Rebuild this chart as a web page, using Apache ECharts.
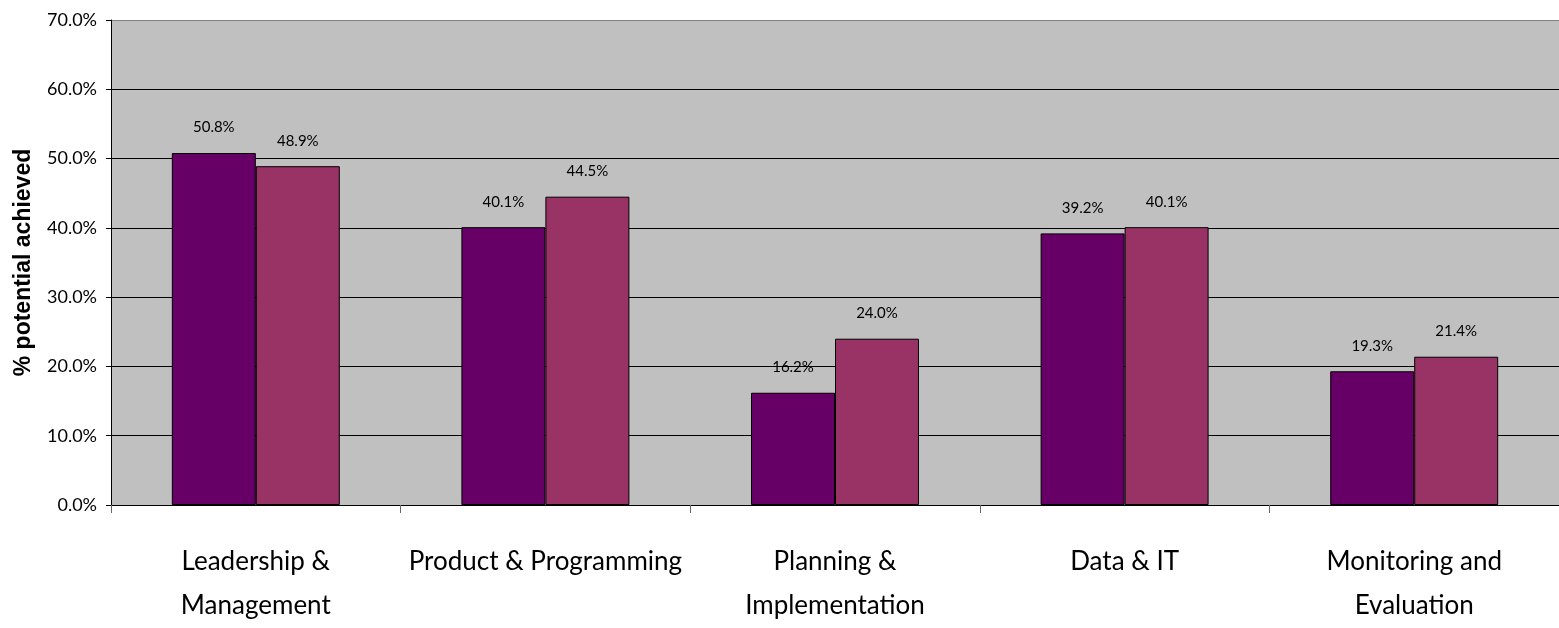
<!DOCTYPE html>
<html><head><meta charset="utf-8">
<script src="https://cdn.jsdelivr.net/npm/echarts@6/dist/echarts.min.js"></script>
<style>html,body{margin:0;padding:0;background:#fff;overflow:hidden}#c{width:1559px;height:628px}</style>
</head><body><div id="c"></div>
<script>
const categories = ['Leadership &\nManagement', 'Product & Programming', 'Planning &\nImplementation', 'Data & IT', 'Monitoring and\nEvaluation'];
const series1 = [50.8, 40.1, 16.2, 39.2, 19.3];
const series2 = [48.9, 44.5, 24.0, 40.1, 21.4];
const yTicks = { min: 0, max: 70, interval: 10 };
const FONT = 'Lato';

const chart = echarts.init(document.getElementById('c'));
const labelCfg = {
  show: true, position: 'top', distance: 18,
  fontFamily: FONT, fontSize: 15, color: '#000',
  formatter: p => p.value.toFixed(1) + '%'
};
chart.setOption({
  animation: false,
  grid: { left: 111, top: 20, width: 1455, height: 492, show: true, backgroundColor: '#c0c0c0', borderWidth: 0 },
  xAxis: {
    type: 'category', data: categories,
    axisLine: { lineStyle: { color: '#000', width: 1 } },
    axisTick: { show: true, length: 8, lineStyle: { color: '#666' } },
    axisLabel: { margin: 35, fontFamily: FONT, fontSize: 26, color: '#000', lineHeight: 44, interval: 0 }
  },
  yAxis: {
    type: 'value', min: yTicks.min, max: yTicks.max, interval: yTicks.interval,
    name: '% potential achieved', nameLocation: 'middle', nameGap: 76,
    nameTextStyle: { fontFamily: 'Liberation Sans', fontSize: 23, fontWeight: 'bold', color: '#000' },
    axisLine: { show: true, lineStyle: { color: '#000' } },
    axisTick: { show: true, length: 5, lineStyle: { color: '#000' } },
    axisLabel: { fontFamily: FONT, fontSize: 18, color: '#000', margin: 14, formatter: v => v.toFixed(1) + '%' },
    splitLine: { show: true, lineStyle: { color: ['#000', '#000', '#000', '#000', '#000', '#000', '#000', '#808080'], width: 1 } }
  },
  series: [
    { type: 'bar', data: series1, barGap: '0%', barCategoryGap: '42%',
      itemStyle: { color: '#660066', borderColor: '#000', borderWidth: 1 }, label: labelCfg },
    { type: 'bar', data: series2, barGap: '0%', barCategoryGap: '42%',
      itemStyle: { color: '#993366', borderColor: '#000', borderWidth: 1 }, label: labelCfg }
  ]
});
</script></body></html>
